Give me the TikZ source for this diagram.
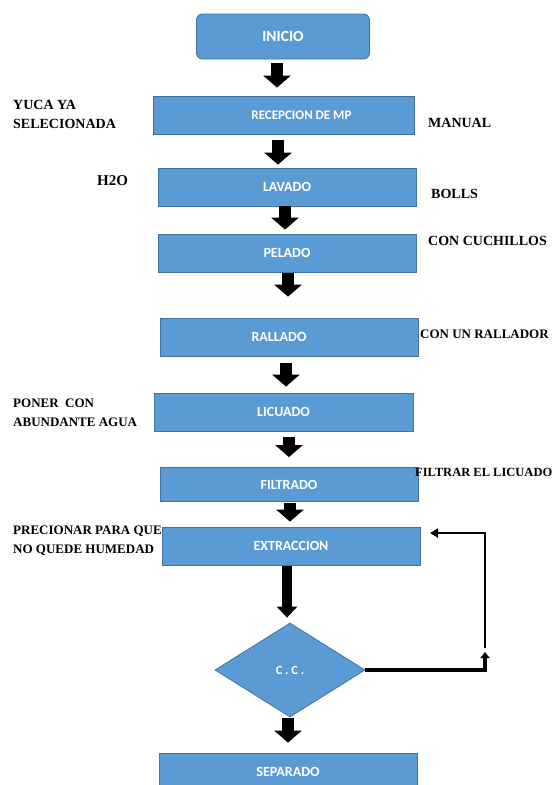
\documentclass[tikz,border=0pt]{standalone}
\usepackage{fontspec}
\usetikzlibrary{arrows.meta,shapes.geometric}
\newfontfamily\boxfont{Carlito}
\newfontfamily\labfont{Liberation Serif}
\definecolor{boxblue}{HTML}{5B9BD5}
\definecolor{boxline}{HTML}{41719C}
\tikzset{
  stepbox/.style={draw=boxline, fill=boxblue, line width=0.8pt, text=white,
    font=\boxfont\bfseries\fontsize{14}{16}\selectfont, inner sep=0pt,
    minimum width=258pt, minimum height=38pt},
  lab/.style={anchor=west, inner sep=0pt, align=left,
    font=\labfont\bfseries\fontsize{14}{19}\selectfont},
  labsm/.style={lab, font=\labfont\bfseries\fontsize{13}{19}\selectfont},
  barrow/.style={line width=12pt, -{Triangle[length=12pt,width=27pt]}},
  thinarrow/.style={line width=10pt, -{Triangle[length=11pt,width=20pt]}},
  fbline/.style={line width=4pt, -{Triangle[length=6pt,width=9pt]}},
  fbline2/.style={line width=2.8pt, -{Triangle[length=8pt,width=9pt]}},
}
\begin{document}
\begin{tikzpicture}[x=1pt,y=-1pt]
\useasboundingbox (0,0) rectangle (554,785);
\fill[white] (0,0) rectangle (554,785);

% boxes
\node[stepbox, rounded corners=6pt, minimum width=173pt, minimum height=45pt,
  font=\boxfont\bfseries\fontsize{15.5}{17}\selectfont] (inicio) at (283,36.5) {INICIO};
\node[stepbox, minimum width=261pt, font=\boxfont\bfseries\fontsize{13}{15}\selectfont] (rec) at (283.5,115) {\hspace*{36pt}RECEPCION DE MP};
\node[stepbox] (lav) at (287,187) {LAVADO};
\node[stepbox] (pel) at (287,253) {PELADO};
\node[stepbox] (ral) at (289,337) {RALLADO\hspace*{20pt}};
\node[stepbox, minimum width=259pt] (lic) at (283.5,412) {LICUADO};
\node[stepbox, minimum height=34pt] (fil) at (289,484.5) {FILTRADO};
\node[stepbox] (ext) at (291,546) {EXTRACCION};
\node[diamond, draw=boxline, fill=boxblue, line width=0.8pt, text=white,
  minimum width=150pt, minimum height=94pt, inner sep=0pt,
  font=\boxfont\bfseries\fontsize{12.5}{14}\selectfont] (cc) at (290,670) {C . C .};
\node[stepbox, minimum height=37pt] (sep) at (288,771.5) {SEPARADO};

% arrow x positions
\coordinate (x1) at (277,0);
\coordinate (x2) at (278,0);
\coordinate (x3) at (285,0);
\coordinate (x4) at (288,0);
\coordinate (x5) at (286,0);
\coordinate (x6) at (289,0);
\coordinate (x7) at (290,0);
\coordinate (x8) at (287,0);
\coordinate (x9) at (288,0);

\draw[barrow, shorten <=4pt, shorten >=8pt] (inicio.south -| x1) -- (rec.north -| x1);
\draw[barrow, shorten <=6pt, shorten >=3pt] (rec.south -| x2) -- (lav.north -| x2);
\draw[barrow, shorten <=0pt, shorten >=4pt] (lav.south -| x3) -- (pel.north -| x3);
\draw[barrow, shorten <=1pt, shorten >=21pt] (pel.south -| x4) -- (ral.north -| x4);
\draw[barrow, shorten <=7pt, shorten >=6pt] (ral.south -| x5) -- (lic.north -| x5);
\draw[barrow, shorten <=6pt, shorten >=10pt] (lic.south -| x6) -- (fil.north -| x6);
\draw[barrow, shorten <=1pt, shorten >=5pt] (fil.south -| x7) -- (ext.north -| x7);
\draw[thinarrow, shorten <=1pt, shorten >=5pt] (ext.south -| x8) -- (cc.north -| x8);
\draw[barrow, shorten <=1pt, shorten >=10pt] (cc.south -| x9) -- (sep.north -| x9);

% feedback loop
\coordinate (c1) at (485,670);
\coordinate (c2) at (485,652);
\coordinate (c3) at (485,648);
\coordinate (c4) at (485,533);
\coordinate (c5) at (430,533);
\draw[fbline] (cc.east) -- (c1) -- (c2);
\draw[fbline2] (c3) -- (c4) -- (c5);

% side labels
\node[lab] (l1) at (13,114.5) {YUCA YA\\SELECIONADA};
\node[lab] (l2) at (428,122.5) {MANUAL};
\node[lab, font=\labfont\bfseries\fontsize{15}{19}\selectfont] (l3) at (97,181) {H2O};
\node[lab] (l4) at (431,194) {BOLLS};
\node[lab] (l5) at (428,241) {CON CUCHILLOS};
\node[labsm] (l6) at (420,334) {CON UN RALLADOR};
\node[labsm] (l7) at (13,412.5) {PONER\ \ CON\\ABUNDANTE AGUA};
\node[lab, font=\labfont\bfseries\fontsize{12.5}{15}\selectfont] (l8) at (415,472) {FILTRAR EL LICUADO};
\node[labsm] (l9) at (13,541) {PRECIONAR PARA QUE\\NO QUEDE HUMEDAD};
\end{tikzpicture}
\end{document}
